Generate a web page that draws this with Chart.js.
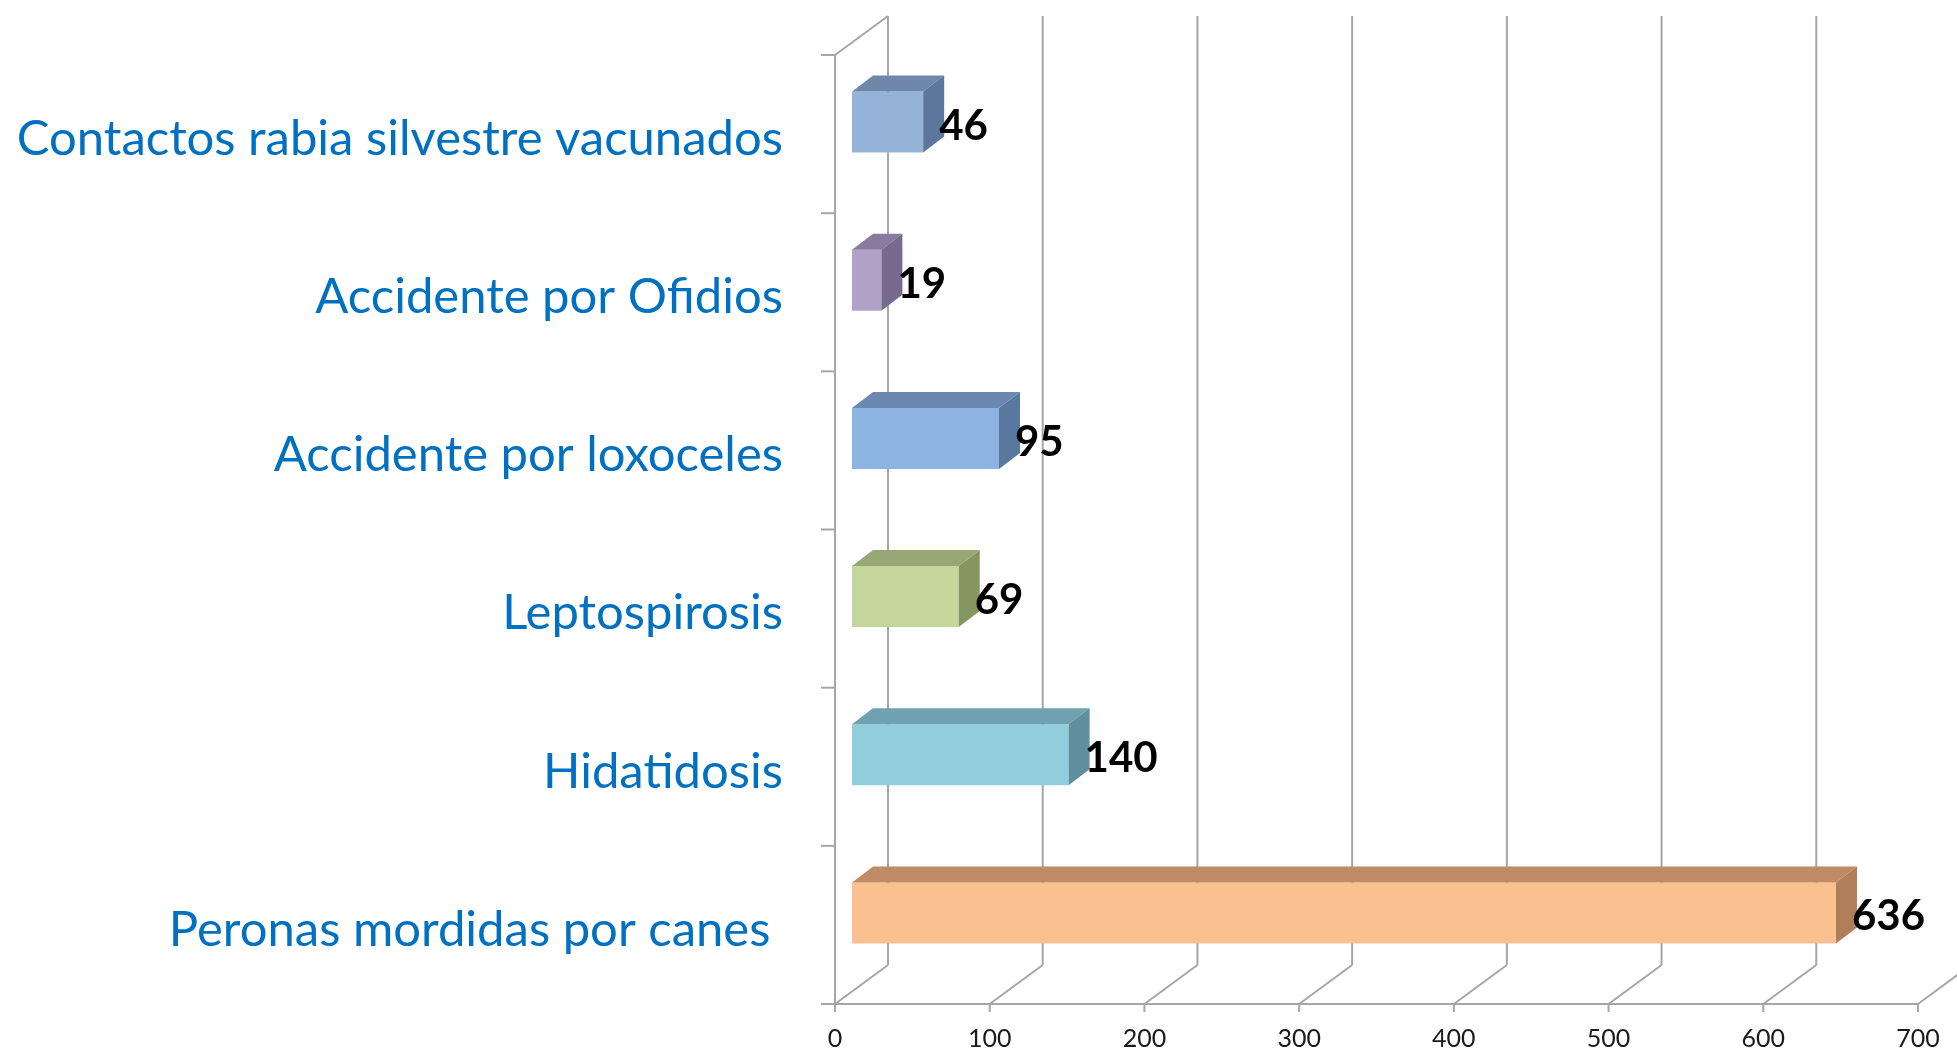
<!DOCTYPE html>
<html>
<head>
<meta charset="utf-8">
<script src="https://cdn.jsdelivr.net/npm/chart.js"></script>
<style>
  body { margin: 0; background: #fff; }
  #wrap { width: 1957px; height: 1051px; }
</style>
</head>
<body>
<div id="wrap"><canvas id="chart" width="1957" height="1051"></canvas></div>
<script>
// data
const categories = ['Contactos rabia silvestre vacunados', 'Accidente por Ofidios', 'Accidente por loxoceles', 'Leptospirosis', 'Hidatidosis', 'Peronas mordidas por canes '];
const values = [46, 19, 95, 69, 140, 636];
const xTicks = [0, 100, 200, 300, 400, 500, 600, 700];

const frontColors = ['#95b3d7', '#b3a2c7', '#8db3e2', '#c3d69b', '#92cddc', '#fac090'];
const topColors = ['#6f87ab', '#8a7aa0', '#6a88b0', '#97a874', '#6fa1b0', '#c08b64'];
const sideColors = ['#5d769b', '#786a8e', '#5a779f', '#859761', '#5f8f9d', '#b07f59'];

const wallDX = 53, wallDY = -39;   // depth of the back wall
const barDX = 21, barDY = -16;     // depth of each box
const barShiftX = 17, barShiftY = -12;
const lineColor = '#a6a6a6';

function line(ctx, x1, y1, x2, y2) {
  ctx.beginPath();
  ctx.moveTo(x1, y1);
  ctx.lineTo(x2, y2);
  ctx.stroke();
}

const box3d = {
  id: 'box3d',
  beforeDatasetsDraw(chart) {
    const ctx = chart.ctx;
    const a = chart.chartArea;
    const xs = chart.scales.x;
    ctx.save();
    ctx.strokeStyle = lineColor;
    ctx.lineWidth = 2;
    // back wall gridlines + floor diagonals
    xTicks.forEach(v => {
      const px = xs.getPixelForValue(v);
      line(ctx, px + wallDX, a.top + wallDY, px + wallDX, a.bottom + wallDY);
      line(ctx, px, a.bottom, px + wallDX, a.bottom + wallDY);
      line(ctx, px, a.bottom, px, a.bottom + 8);
    });
    // left wall
    line(ctx, a.left, a.top, a.left, a.bottom);
    line(ctx, a.left, a.top, a.left + wallDX, a.top + wallDY);
    // floor front edge
    line(ctx, a.left, a.bottom, xs.getPixelForValue(700), a.bottom);
    // category tick marks
    const n = categories.length;
    for (let k = 0; k <= n; k++) {
      const y = a.top + k * (a.bottom - a.top) / n;
      line(ctx, a.left - 14, y, a.left, y);
    }
    ctx.restore();
    ctx.save();
    ctx.translate(barShiftX, barShiftY);
  },
  afterDatasetsDraw(chart) {
    const ctx = chart.ctx;
    const meta = chart.getDatasetMeta(0);
    meta.data.forEach((bar, i) => {
      const p = bar.getProps(['x', 'y', 'base', 'height'], true);
      const t = p.y - p.height / 2, b = p.y + p.height / 2;
      ctx.fillStyle = topColors[i];
      ctx.beginPath();
      ctx.moveTo(p.base, t);
      ctx.lineTo(p.base + barDX, t + barDY);
      ctx.lineTo(p.x + barDX, t + barDY);
      ctx.lineTo(p.x, t);
      ctx.closePath();
      ctx.fill();
      ctx.fillStyle = sideColors[i];
      ctx.beginPath();
      ctx.moveTo(p.x, t);
      ctx.lineTo(p.x + barDX, t + barDY);
      ctx.lineTo(p.x + barDX, b + barDY);
      ctx.lineTo(p.x, b);
      ctx.closePath();
      ctx.fill();
    });
    // value labels
    ctx.fillStyle = '#000';
    ctx.font = 'bold 42px Lato';
    ctx.textAlign = 'left';
    ctx.textBaseline = 'middle';
    meta.data.forEach((bar, i) => {
      ctx.fillText(String(values[i]), bar.x + barDX - 5, bar.y + 4);
    });
    ctx.restore();
  }
};

new Chart(document.getElementById('chart'), {
  type: 'bar',
  data: {
    labels: categories,
    datasets: [{
      data: values,
      backgroundColor: frontColors,
      borderWidth: 0,
      categoryPercentage: 1,
      barPercentage: 0.386
    }]
  },
  options: {
    indexAxis: 'y',
    responsive: false,
    animation: false,
    layout: { padding: { top: 55, right: 39, left: 0, bottom: 0 } },
    plugins: { legend: { display: false }, tooltip: { enabled: false } },
    scales: {
      x: {
        min: 0, max: 700,
        afterFit(scale) {
          scale.height = 47;
          scale.paddingLeft = 0; scale.paddingRight = 0;
          scale.paddingTop = 0; scale.paddingBottom = 0;
        },
        afterBuildTicks(scale) { scale.ticks = xTicks.map(v => ({ value: v })); },
        grid: { display: false, drawTicks: false },
        border: { display: false },
        ticks: { color: '#1a1a1a', font: { family: 'Lato', size: 25 }, padding: 20, maxRotation: 0 }
      },
      y: {
        afterFit(scale) {
          scale.width = 835;
          scale.paddingTop = 0; scale.paddingBottom = 0;
          scale.paddingLeft = 0; scale.paddingRight = 0;
        },
        grid: { display: false, drawTicks: false },
        border: { display: false },
        ticks: { color: '#0070c0', font: { family: 'Lato', size: 49 }, padding: 52, labelOffset: 5 }
      }
    }
  },
  plugins: [box3d]
});
</script>
</body>
</html>
